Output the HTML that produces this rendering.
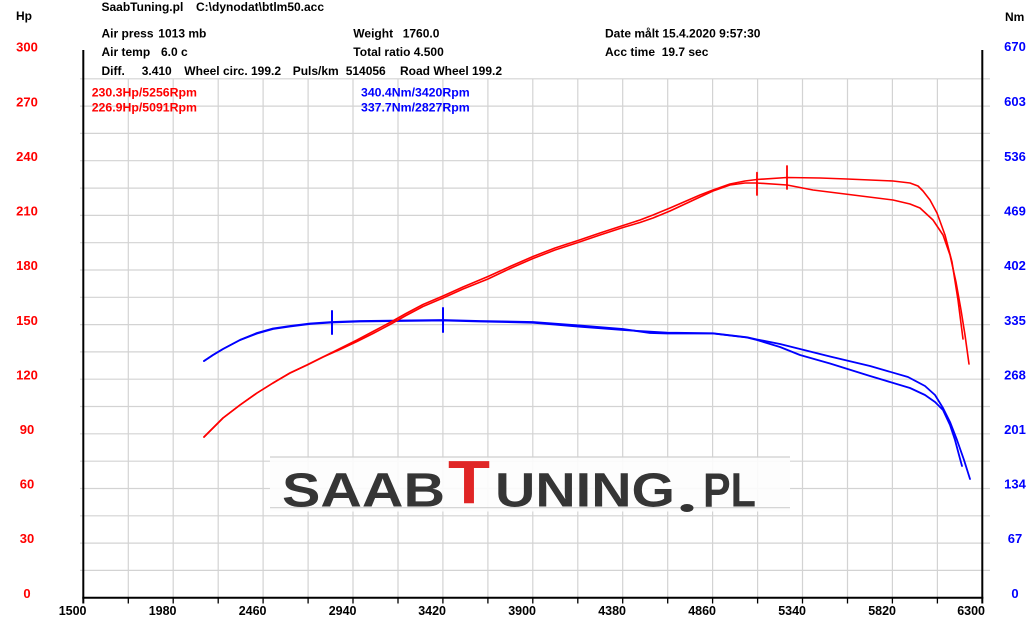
<!DOCTYPE html>
<html>
<head>
<meta charset="utf-8">
<style>
html,body{margin:0;padding:0;background:#fff;}
svg{display:block;}
text{font-family:"Liberation Sans",Arial,sans-serif;font-weight:bold;}
</style>
</head>
<body>
<svg width="1032" height="623" viewBox="0 0 1032 623" xmlns="http://www.w3.org/2000/svg">
<rect x="0" y="0" width="1032" height="623" fill="#fff"/>

<!-- horizontal grid -->
<g stroke="#d3d3d3" stroke-width="1.2">
<line x1="80" y1="570.4" x2="990" y2="570.4"/>
<line x1="80" y1="543.1" x2="990" y2="543.1"/>
<line x1="80" y1="515.8" x2="990" y2="515.8"/>
<line x1="80" y1="488.5" x2="990" y2="488.5"/>
<line x1="80" y1="461.2" x2="990" y2="461.2"/>
<line x1="80" y1="433.8" x2="990" y2="433.8"/>
<line x1="80" y1="406.5" x2="990" y2="406.5"/>
<line x1="80" y1="379.2" x2="990" y2="379.2"/>
<line x1="80" y1="351.9" x2="990" y2="351.9"/>
<line x1="80" y1="324.6" x2="990" y2="324.6"/>
<line x1="80" y1="297.3" x2="990" y2="297.3"/>
<line x1="80" y1="270.0" x2="990" y2="270.0"/>
<line x1="80" y1="242.7" x2="990" y2="242.7"/>
<line x1="80" y1="215.4" x2="990" y2="215.4"/>
<line x1="80" y1="188.1" x2="990" y2="188.1"/>
<line x1="80" y1="160.7" x2="990" y2="160.7"/>
<line x1="80" y1="133.4" x2="990" y2="133.4"/>
<line x1="80" y1="106.1" x2="990" y2="106.1"/>
<line x1="80" y1="78.8" x2="990" y2="78.8"/>
</g>
<!-- vertical grid -->
<g stroke="#d3d3d3" stroke-width="1.2">
<line x1="128.3" y1="78.8" x2="128.3" y2="597.7"/>
<line x1="173.2" y1="78.8" x2="173.2" y2="597.7"/>
<line x1="218.2" y1="78.8" x2="218.2" y2="597.7"/>
<line x1="263.1" y1="78.8" x2="263.1" y2="597.7"/>
<line x1="308.1" y1="78.8" x2="308.1" y2="597.7"/>
<line x1="353.0" y1="78.8" x2="353.0" y2="597.7"/>
<line x1="398.0" y1="78.8" x2="398.0" y2="597.7"/>
<line x1="442.9" y1="78.8" x2="442.9" y2="597.7"/>
<line x1="487.9" y1="78.8" x2="487.9" y2="597.7"/>
<line x1="532.8" y1="78.8" x2="532.8" y2="597.7"/>
<line x1="577.8" y1="78.8" x2="577.8" y2="597.7"/>
<line x1="622.7" y1="78.8" x2="622.7" y2="597.7"/>
<line x1="667.7" y1="78.8" x2="667.7" y2="597.7"/>
<line x1="712.6" y1="78.8" x2="712.6" y2="597.7"/>
<line x1="757.6" y1="78.8" x2="757.6" y2="597.7"/>
<line x1="802.5" y1="78.8" x2="802.5" y2="597.7"/>
<line x1="847.5" y1="78.8" x2="847.5" y2="597.7"/>
<line x1="892.4" y1="78.8" x2="892.4" y2="597.7"/>
<line x1="937.4" y1="78.8" x2="937.4" y2="597.7"/>
</g>

<!-- logo -->
<g>
<rect x="270" y="456.5" width="520" height="55" fill="#fdfdfd" fill-opacity="0.9"/>
<line x1="270" y1="457" x2="790" y2="457" stroke="#cfcfcf" stroke-width="1.2"/>
<line x1="270" y1="507.7" x2="790" y2="507.7" stroke="#cfcfcf" stroke-width="1.2"/>
<text x="282" y="506.5" font-size="48" fill="#353535" textLength="163" lengthAdjust="spacingAndGlyphs">SAAB</text>
<text x="448" y="503.5" font-size="61" fill="#e02525" textLength="42" lengthAdjust="spacingAndGlyphs">T</text>
<text x="495" y="506.5" font-size="48" fill="#353535" textLength="180" lengthAdjust="spacingAndGlyphs">UNING</text>
<ellipse cx="687" cy="508" rx="6.5" ry="4" fill="#333"/>
<text x="703" y="506.5" font-size="48" fill="#353535" textLength="53" lengthAdjust="spacingAndGlyphs">PL</text>
</g>

<!-- axes -->
<g stroke="#000">
<line x1="83.3" y1="50" x2="83.3" y2="603.5" stroke-width="2"/>
<line x1="982.3" y1="50" x2="982.3" y2="603.5" stroke-width="2"/>
<line x1="82.3" y1="597.7" x2="983.3" y2="597.7" stroke-width="2"/>
</g>
<g stroke="#000" stroke-width="1.3">
<line x1="128.3" y1="597.7" x2="128.3" y2="603.5"/>
<line x1="173.2" y1="597.7" x2="173.2" y2="603.5"/>
<line x1="218.2" y1="597.7" x2="218.2" y2="603.5"/>
<line x1="263.1" y1="597.7" x2="263.1" y2="603.5"/>
<line x1="308.1" y1="597.7" x2="308.1" y2="603.5"/>
<line x1="353.0" y1="597.7" x2="353.0" y2="603.5"/>
<line x1="398.0" y1="597.7" x2="398.0" y2="603.5"/>
<line x1="442.9" y1="597.7" x2="442.9" y2="603.5"/>
<line x1="487.9" y1="597.7" x2="487.9" y2="603.5"/>
<line x1="532.8" y1="597.7" x2="532.8" y2="603.5"/>
<line x1="577.8" y1="597.7" x2="577.8" y2="603.5"/>
<line x1="622.7" y1="597.7" x2="622.7" y2="603.5"/>
<line x1="667.7" y1="597.7" x2="667.7" y2="603.5"/>
<line x1="712.6" y1="597.7" x2="712.6" y2="603.5"/>
<line x1="757.6" y1="597.7" x2="757.6" y2="603.5"/>
<line x1="802.5" y1="597.7" x2="802.5" y2="603.5"/>
<line x1="847.5" y1="597.7" x2="847.5" y2="603.5"/>
<line x1="892.4" y1="597.7" x2="892.4" y2="603.5"/>
<line x1="937.4" y1="597.7" x2="937.4" y2="603.5"/>
</g>

<!-- bottom labels -->
<g font-size="12.5" fill="#000" text-anchor="end">
<text x="86.5" y="615">1500</text>
<text x="176.5" y="615">1980</text>
<text x="266.5" y="615">2460</text>
<text x="356.5" y="615">2940</text>
<text x="446" y="615">3420</text>
<text x="536" y="615">3900</text>
<text x="626" y="615">4380</text>
<text x="716" y="615">4860</text>
<text x="806" y="615">5340</text>
<text x="896" y="615">5820</text>
<text x="985" y="615">6300</text>
</g>

<!-- left labels -->
<g font-size="13" fill="#ff0000" text-anchor="middle">
<text x="27" y="51.5">300</text>
<text x="27" y="106.5">270</text>
<text x="27" y="161">240</text>
<text x="27" y="215.5">210</text>
<text x="27" y="270">180</text>
<text x="27" y="325">150</text>
<text x="27" y="379.5">120</text>
<text x="27" y="434">90</text>
<text x="27" y="488.5">60</text>
<text x="27" y="543">30</text>
<text x="27" y="598">0</text>
</g>
<!-- right labels -->
<g font-size="13" fill="#0000ff" text-anchor="middle">
<text x="1015" y="51">670</text>
<text x="1015" y="106">603</text>
<text x="1015" y="161">536</text>
<text x="1015" y="215.5">469</text>
<text x="1015" y="270">402</text>
<text x="1015" y="325">335</text>
<text x="1015" y="379.5">268</text>
<text x="1015" y="434">201</text>
<text x="1015" y="488.5">134</text>
<text x="1015" y="543">67</text>
<text x="1015" y="598">0</text>
</g>

<!-- header -->
<g font-size="12" fill="#000">
<text x="16" y="20">Hp</text>
<text x="1005" y="21">Nm</text>
<text x="101.5" y="11">SaabTuning.pl</text>
<text x="196" y="11">C:\dynodat\btlm50.acc</text>
<text x="101.5" y="37.3">Air press</text>
<text x="158.3" y="37.3">1013 mb</text>
<text x="353.3" y="37.3">Weight</text>
<text x="402.7" y="37.3">1760.0</text>
<text x="605" y="37.3">Date målt 15.4.2020 9:57:30</text>
<text x="101.5" y="56">Air temp</text>
<text x="161" y="56">6.0 c</text>
<text x="353.3" y="56">Total ratio 4.500</text>
<text x="605" y="56">Acc time</text>
<text x="661.7" y="56">19.7 sec</text>
<text x="101.5" y="75">Diff.</text>
<text x="141.7" y="75">3.410</text>
<text x="184.3" y="75">Wheel circ. 199.2</text>
<text x="292.7" y="75">Puls/km</text>
<text x="345.7" y="75">514056</text>
<text x="400" y="75">Road Wheel 199.2</text>
</g>
<g font-size="12.3">
<text x="91.7" y="96.7" fill="#ff0000">230.3Hp/5256Rpm</text>
<text x="91.7" y="111.7" fill="#ff0000">226.9Hp/5091Rpm</text>
<text x="361" y="96.7" fill="#0000ff">340.4Nm/3420Rpm</text>
<text x="361" y="111.7" fill="#0000ff">337.7Nm/2827Rpm</text>
</g>

<!-- blue torque curves -->
<g fill="none" stroke="#0000ff" stroke-width="1.8" stroke-linejoin="round" stroke-linecap="round">
<polyline points="204,361 213,355 223,349 240,340 257,333.5 273,329 290,326.5 310,324 332,322.5 360,321.5 400,321 443,320.5 480,321.5 533,322.7 580,326.7 623,330 667,332.7 713,333.3 747,337.3 757,339.5 780,344 800,349 830,356.5 870,366 908,377 925,386 935,395 943,408 950,422 957,440 964,460 970,479"/>
<polyline points="204,361 213,355 223,349 240,340 257,333 273,328.5 290,326 310,323.5 332,322 360,321 400,320.5 443,320 480,321 533,322 580,325.5 623,329 650,333 667,333.5 713,333.5 747,337.5 757,340 780,347 800,355 830,363.5 870,376 910,388 925,395 935,402 943,410 950,425 955,440 959,455 962,466"/>
<line x1="332" y1="311" x2="332" y2="334" stroke-width="2"/>
<line x1="443" y1="308" x2="443" y2="332" stroke-width="2"/>
</g>

<!-- red power curves -->
<g fill="none" stroke="#ff0000" stroke-width="1.6" stroke-linejoin="round" stroke-linecap="round">
<polyline points="204,437 223,418 240,405 257,393 273,383 290,373 307,365 323,357 340,348.5 357,340 373,331.5 390,322.5 406,313.5 423,304.5 443,296 463,287 488,276.5 510,266.5 533,256.5 555,248 578,240.5 600,233 623,225.5 640,220 653,215 670,208 685,201.5 700,195 713,190 730,184 745,181 757,179.5 787,177.5 820,178 847,179 870,180 893,181 910,183 918,186 923,191 930,200 937,213 945,235 952,262 958,300 963,339"/>
<polyline points="204,437 223,418 240,405 257,393 273,383 290,373 307,365 323,357 340,349.5 357,341.5 373,333.5 390,324.5 406,315.5 423,306.5 443,298 463,289 488,279 510,268.5 533,258.5 555,250 578,242.5 600,235 623,227.5 640,222.5 653,218 670,211 685,204 700,197 713,191 730,185 745,183 757,183 787,185 813,190 853,195 893,200 910,204 920,208 933,220 943,235 950,255 956,282 961,310 965,335 969,364"/>
<line x1="757" y1="172.7" x2="757" y2="195" stroke-width="1.8"/>
<line x1="787" y1="166" x2="787" y2="189" stroke-width="1.8"/>
</g>
</svg>
</body>
</html>
